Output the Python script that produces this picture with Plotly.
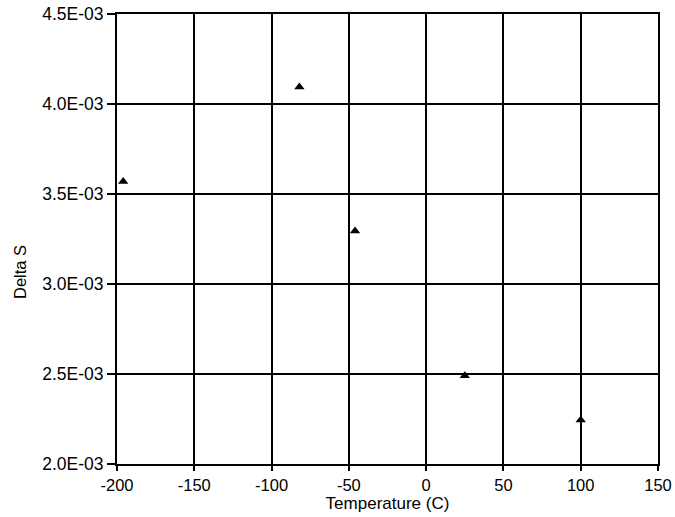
import plotly.graph_objects as go

temperature = [-196, -82, -46, 25, 100]
delta_s = [3.57e-3, 4.095e-3, 3.295e-3, 2.49e-3, 2.245e-3]

x_ticks = [-200, -150, -100, -50, 0, 50, 100, 150]
y_ticks = [2.0e-3, 2.5e-3, 3.0e-3, 3.5e-3, 4.0e-3, 4.5e-3]
y_tick_labels = ["2.0E-03", "2.5E-03", "3.0E-03", "3.5E-03", "4.0E-03", "4.5E-03"]

fig = go.Figure()
fig.add_trace(go.Scatter(
    x=temperature, y=delta_s, mode="markers",
    marker=dict(symbol="triangle-up", size=9, color="black"),
    showlegend=False,
))

fig.update_layout(
    width=675, height=517,
    margin=dict(l=117, r=17, t=14, b=53),
    paper_bgcolor="white", plot_bgcolor="white",
    font=dict(family="Liberation Sans, Arial, sans-serif", size=16, color="black"),
)
fig.update_xaxes(
    range=[-200, 150], tickvals=x_ticks, ticktext=[str(v) for v in x_ticks],
    showgrid=True, gridcolor="black", gridwidth=1.8,
    showline=True, linecolor="black", linewidth=2, mirror=True,
    ticks="outside", ticklen=5, tickcolor="black", tickwidth=1.5,
    zeroline=False, automargin=False,
    title=dict(text="Temperature (C)", standoff=2, font=dict(size=17)),
    tickfont=dict(size=16.5),
)
fig.update_yaxes(
    range=[2.0e-3, 4.5e-3], tickvals=y_ticks, ticktext=y_tick_labels,
    showgrid=True, gridcolor="black", gridwidth=1.8,
    showline=True, linecolor="black", linewidth=2, mirror=True,
    ticks="outside", ticklen=8, tickcolor="black", tickwidth=1.5,
    zeroline=False, automargin=False,
    tickfont=dict(size=17.5),
)
fig.add_annotation(
    text="Delta S", textangle=-90, showarrow=False,
    xref="paper", yref="paper", x=-0.179, y=0.427,
    xanchor="center", yanchor="middle", font=dict(size=16.5),
)

fig.write_html(
    "out.html",
    config={"displayModeBar": False},
    post_script="document.body.style.margin='0';document.body.style.overflow='hidden';",
)
